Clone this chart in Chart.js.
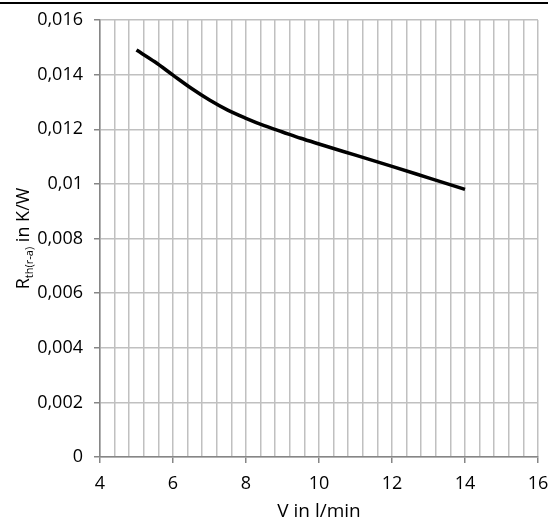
<!DOCTYPE html>
<html>
<head>
<meta charset="utf-8">
<script src="https://cdn.jsdelivr.net/npm/chart.js@4.4.1/dist/chart.umd.min.js"></script>
<style>
  html, body { margin: 0; padding: 0; background: #fff; }
  #wrap { width: 552px; height: 527px; position: relative; }
</style>
</head>
<body>
<div id="wrap"><canvas id="rth-chart"></canvas></div>
<script>
// flow rate in l/min
const flowRates = [5, 5.5, 6, 6.5, 7, 7.5, 8, 8.5, 9, 9.5, 10, 11, 12, 13, 14];
// thermal resistance in K/W
const rthValues = [0.0149, 0.01447, 0.01398, 0.0135, 0.01307, 0.0127, 0.0124, 0.01213,
                   0.0119, 0.01167, 0.01146, 0.01105, 0.01064, 0.01022, 0.0098];

const FONT = '"Open Sans", sans-serif';

// comma decimal like the original
function commaLabel(v) {
    if (Math.abs(v) < 1e-9) return '0';
    return v.toFixed(3).replace(/0+$/, '').replace('.', ',');
}

function isMajor(v) {
    const r = Math.round(v);
    return Math.abs(v - r) < 1e-6 && r % 2 === 0;
}

// black rule at top of the page + y title with subscript
const extras = {
    id: 'extras',
    afterDraw(chart) {
        const ctx = chart.ctx;
        ctx.save();
        ctx.fillStyle = '#000';
        ctx.fillRect(0, 2, 548, 2);

        const area = chart.chartArea;
        const cy = (area.top + area.bottom) / 2;
        const big = '18px ' + FONT;
        const small = '11px ' + FONT;
        ctx.font = big;
        const wR = ctx.measureText('R').width;
        const wRest = ctx.measureText(' in K/W').width;
        ctx.font = small;
        const wSub = ctx.measureText('th(r\u2011a)').width;
        const total = wR + wSub + wRest;

        ctx.translate(29, cy);
        ctx.rotate(-Math.PI / 2);
        ctx.textBaseline = 'alphabetic';
        ctx.textAlign = 'left';
        let x = -total / 2;
        ctx.font = big;
        ctx.fillText('R', x, 0);
        x += wR;
        ctx.font = small;
        ctx.fillText('th(r\u2011a)', x, 4);
        x += wSub;
        ctx.font = big;
        ctx.fillText(' in K/W', x, 0);
        ctx.restore();
    }
};

const ctx = document.getElementById('rth-chart').getContext('2d');

let lineChart = new Chart(ctx, {
    type: 'line',
    data: {
        datasets: [{
            data: flowRates.map((f, i) => ({ x: f, y: rthValues[i] })),
            borderColor: '#000',
            borderWidth: 3.5,
            pointRadius: 0,
            fill: false,
            cubicInterpolationMode: 'monotone'
        }]
    },
    options: {
        responsive: true,
        maintainAspectRatio: false,
        animation: false,
        layout: { padding: { top: 20, right: 14, left: 0, bottom: 0 } },
        plugins: {
            legend: { display: false },
            tooltip: { enabled: false }
        },
        scales: {
            x: {
                type: 'linear',
                min: 4,
                max: 16,
                border: { color: '#868686', width: 1.5 },
                grid: {
                    color: '#c0c0c0',
                    lineWidth: 1.5,
                    tickLength: 6,
                    tickColor: c => isMajor(c.tick.value) ? '#868686' : 'rgba(0,0,0,0)'
                },
                ticks: {
                    stepSize: 0.4,
                    autoSkip: false,
                    maxRotation: 0,
                    padding: 10,
                    color: '#000',
                    font: { family: FONT, size: 18 },
                    callback: v => isMajor(v) ? String(Math.round(v)) : ''
                },
                title: {
                    display: true,
                    text: 'V in l/min',
                    color: '#000',
                    font: { family: FONT, size: 19 },
                    padding: { top: 4 }
                },
                afterFit: s => { s.height = 70; s.paddingLeft = 0; s.paddingRight = 0; }
            },
            y: {
                min: 0,
                max: 0.016,
                border: { color: '#868686', width: 1.5 },
                grid: {
                    color: '#c0c0c0',
                    lineWidth: 1.5,
                    tickLength: 6,
                    tickColor: '#868686'
                },
                ticks: {
                    stepSize: 0.002,
                    padding: 11,
                    color: '#000',
                    font: { family: FONT, size: 18 },
                    callback: v => commaLabel(v)
                },
                afterFit: s => { s.width = 100; s.paddingTop = 0; s.paddingBottom = 0; }
            }
        }
    },
    plugins: [extras]
});
</script>
</body>
</html>
